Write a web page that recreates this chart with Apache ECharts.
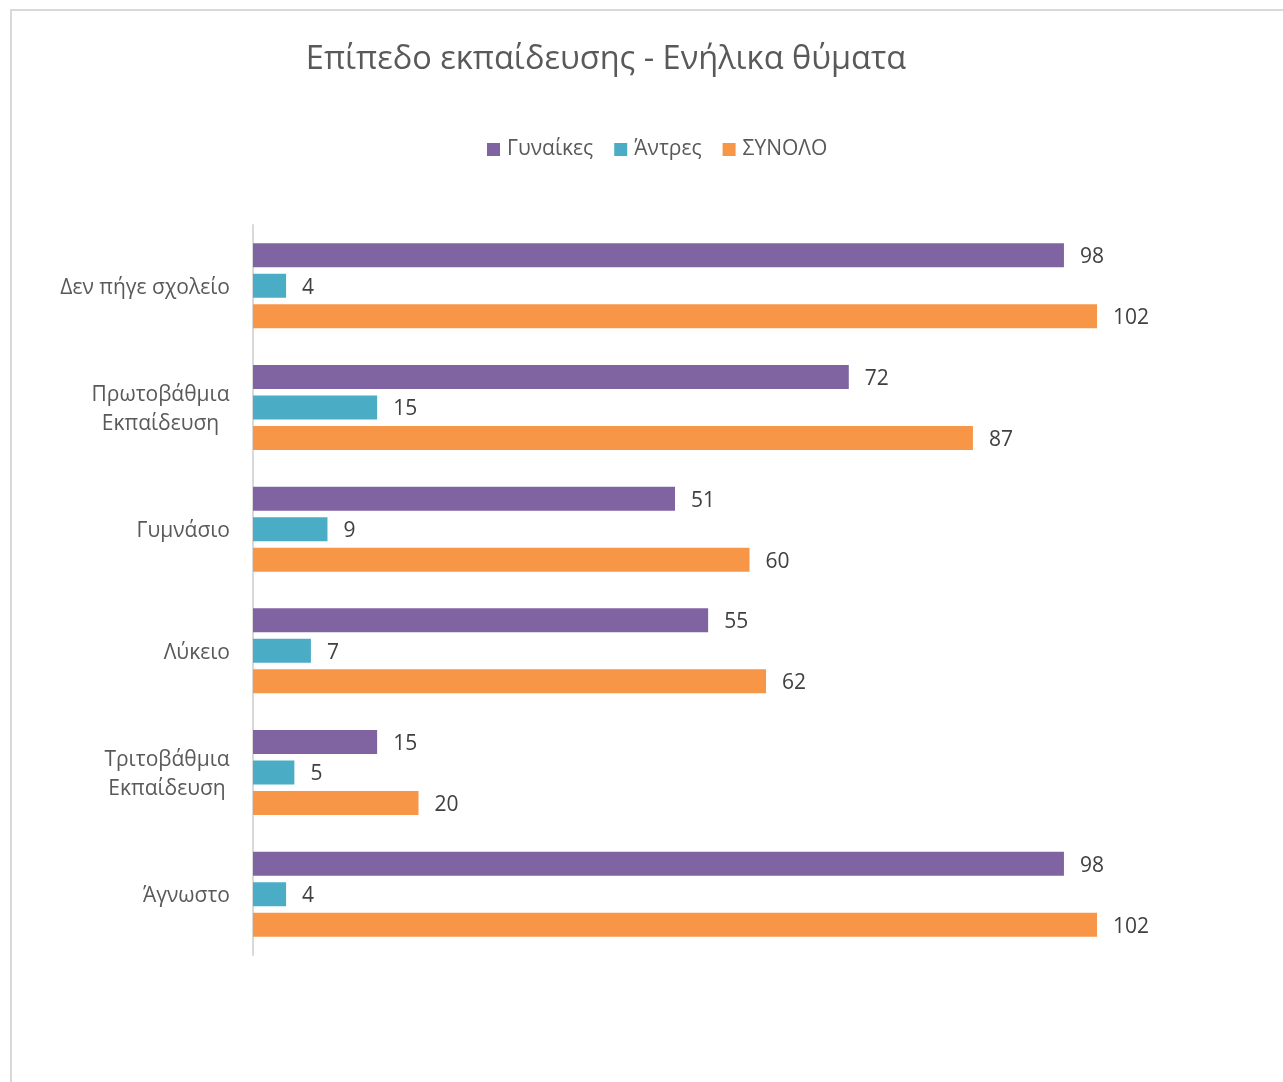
<!DOCTYPE html>
<html><head><meta charset="utf-8">
<script src="https://cdn.jsdelivr.net/npm/echarts@6/dist/echarts.min.js"></script>
<style>
html,body{margin:0;padding:0;background:#fff;}
#frame{position:absolute;left:10px;top:9px;width:1400px;height:1200px;border:2px solid #d9d9d9;box-sizing:border-box;}
#chart{position:absolute;left:0;top:0;width:1283px;height:1082px;}
</style></head>
<body>
<div id="frame"></div>
<div id="chart"></div>
<script>
const categories = ['Δεν πήγε σχολείο', 'Πρωτοβάθμια\nΕκπαίδευση', 'Γυμνάσιο', 'Λύκειο', 'Τριτοβάθμια\nΕκπαίδευση', 'Άγνωστο'];
const women = [98, 72, 51, 55, 15, 98];
const men = [4, 15, 9, 7, 5, 4];
const total = [102, 87, 60, 62, 20, 102];
const seriesNames = ['Γυναίκες', 'Άντρες', 'ΣΥΝΟΛΟ'];
const colors = ['#8064A2', '#4BACC6', '#F79646'];

const FONT = '"Open Sans", "Noto Sans", sans-serif';
const AX_SIZE = 21;

// measure widest line of each multi-line category to center its lines
const mctx = document.createElement('canvas').getContext('2d');
mctx.font = AX_SIZE + 'px ' + FONT;
const rich = {};
categories.forEach((c, i) => {
  const w = Math.max(...c.split('\n').map(s => mctx.measureText(s).width));
  rich['c' + i] = {width: Math.ceil(w), align: 'center', color: '#595959', fontSize: AX_SIZE, fontFamily: FONT, lineHeight: 29};
});

const chart = echarts.init(document.getElementById('chart'), null, {renderer: 'canvas'});
const labelStyle = {show: true, position: 'right', distance: 16, offset: [0, 2], color: '#404040', fontSize: 21, fontFamily: FONT};
const mk = (name, data, color) => ({
  name, type: 'bar', data, barWidth: 24, barGap: '27%',
  itemStyle: {color}, label: labelStyle, silent: true
});
chart.setOption({
  animation: false,
  textStyle: {fontFamily: FONT},
  title: {
    text: 'Επίπεδο εκπαίδευσης - Ενήλικα θύματα',
    left: 601, top: 38, textAlign: 'center',
    textStyle: {color: '#595959', fontSize: 32.5, fontWeight: 'normal', fontFamily: FONT}
  },
  legend: {
    data: seriesNames, left: 482, top: 134, itemWidth: 13, itemHeight: 13, itemGap: 21,
    icon: 'rect',
    textStyle: {color: '#595959', fontSize: 21, fontFamily: FONT, padding: [0, 0, 0, 2]}
  },
  grid: {left: 253, top: 225, bottom: 127, right: 37, containLabel: false},
  xAxis: {type: 'value', min: 0, max: 120, show: false},
  yAxis: {
    type: 'category', data: categories, inverse: true,
    axisLine: {show: true, lineStyle: {color: '#d9d9d9', width: 2}},
    axisTick: {show: false},
    axisLabel: {
      color: '#595959', fontSize: AX_SIZE, fontFamily: FONT, margin: 23, lineHeight: 29,
      padding: [4, 0, 0, 0],
      formatter: (v, i) => v.indexOf('\n') >= 0 ? v.split('\n').map(s => '{c' + i + '|' + s + '}').join('\n') : v,
      rich
    }
  },
  series: [mk(seriesNames[0], women, colors[0]), mk(seriesNames[1], men, colors[1]), mk(seriesNames[2], total, colors[2])]
});
</script>
</body></html>
